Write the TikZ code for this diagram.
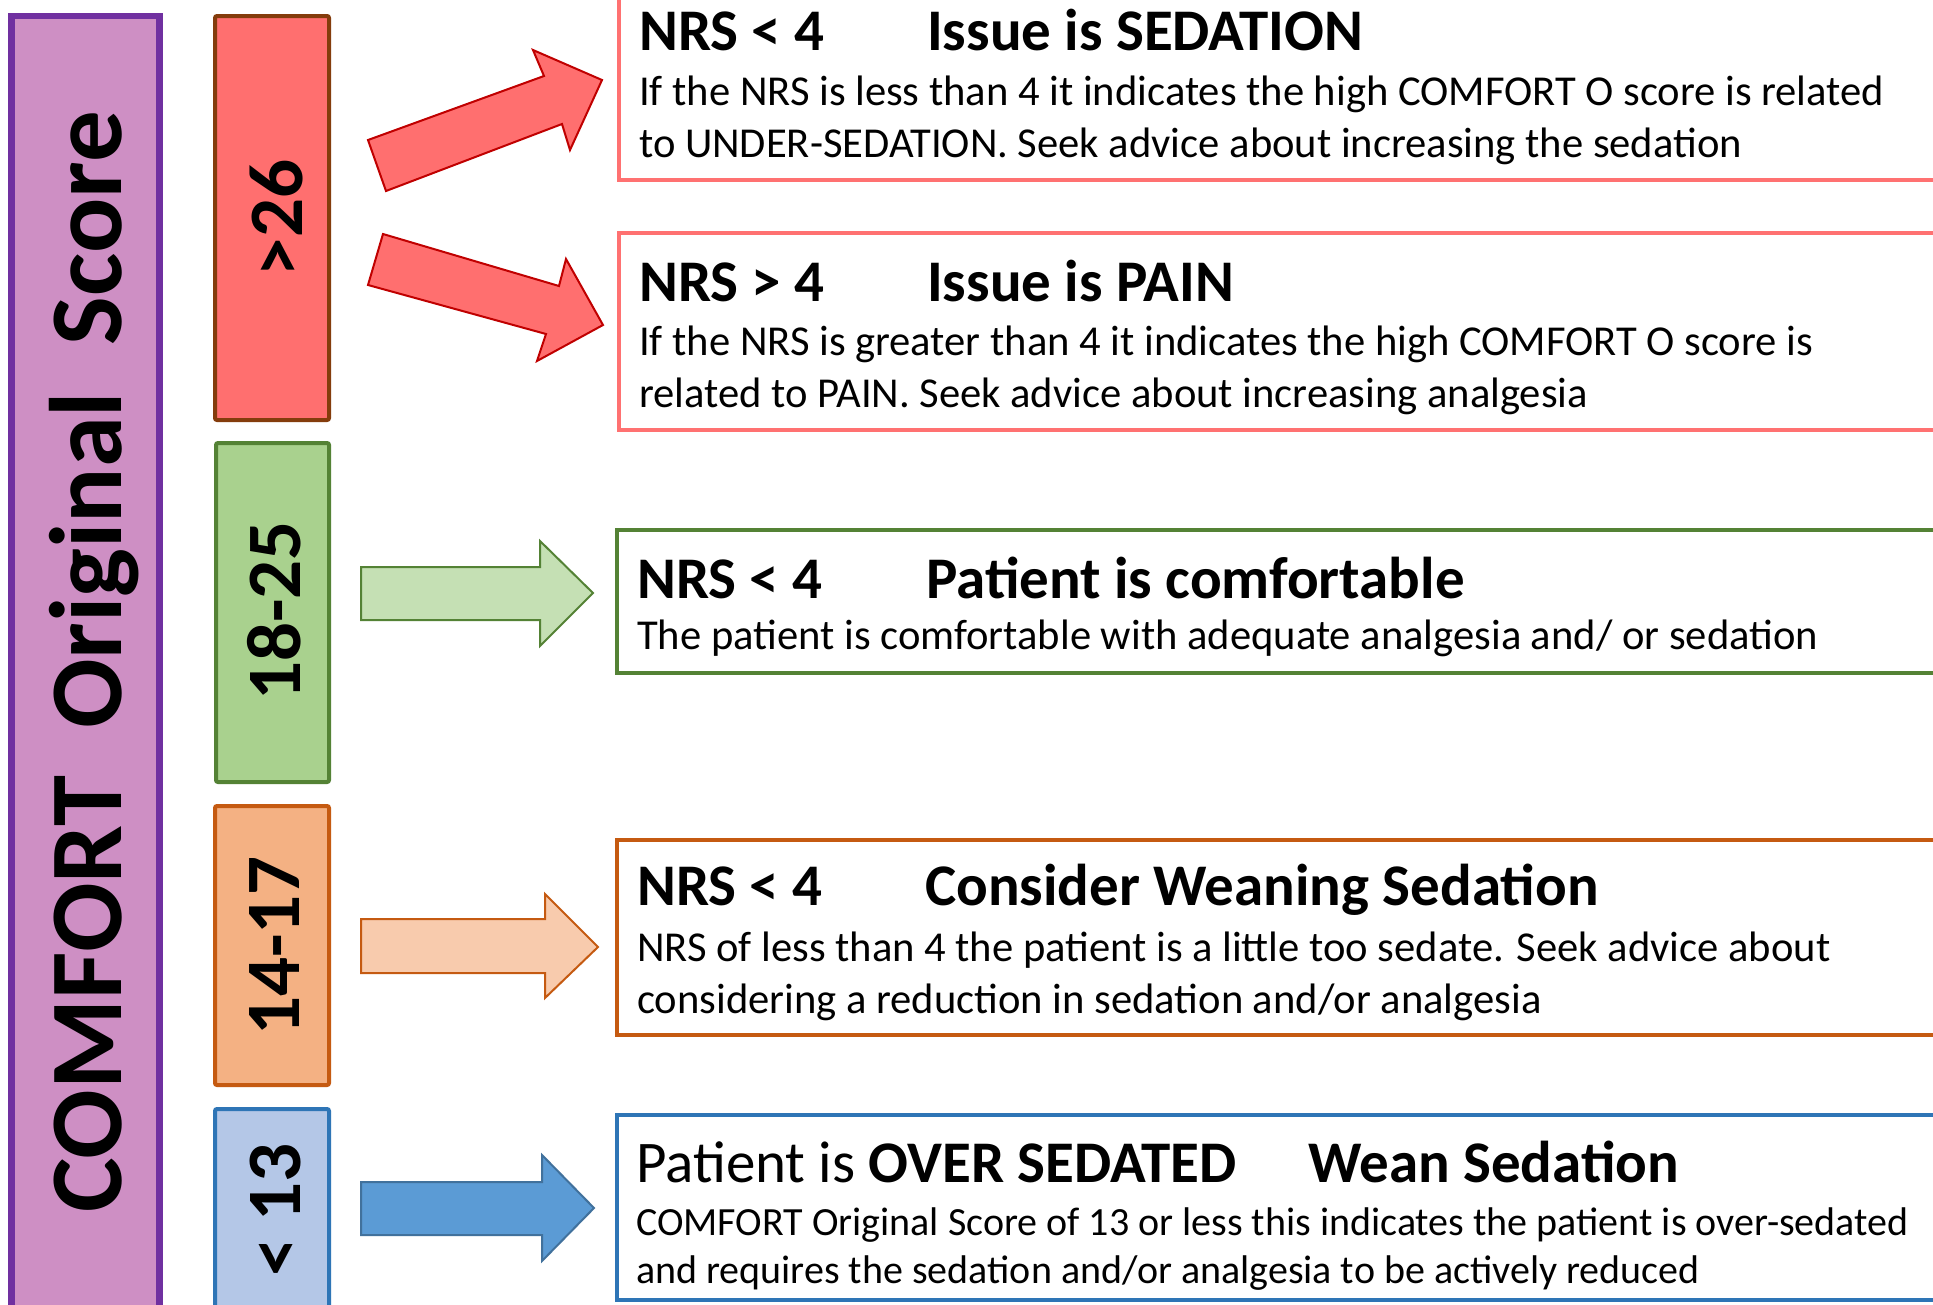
\documentclass[tikz,border=0pt]{standalone}
\usepackage{fontspec}
\setmainfont{Carlito}
\definecolor{purpfill}{RGB}{206,143,196}
\definecolor{purpline}{RGB}{112,48,160}
\definecolor{redfill}{RGB}{255,111,111}
\definecolor{redbar}{RGB}{132,60,12}
\definecolor{redarrow}{RGB}{192,0,0}
\definecolor{pinkline}{RGB}{255,113,113}
\definecolor{greenfill}{RGB}{169,209,142}
\definecolor{greenline}{RGB}{84,130,53}
\definecolor{greenarrow}{RGB}{197,224,180}
\definecolor{orangefill}{RGB}{244,177,131}
\definecolor{orangeline}{RGB}{197,90,17}
\definecolor{orangearrow}{RGB}{248,203,173}
\definecolor{bluefill}{RGB}{180,199,231}
\definecolor{blueline}{RGB}{46,117,182}
\definecolor{bluearrow}{RGB}{91,155,213}
\definecolor{bluearrowline}{RGB}{65,113,156}
\begin{document}
\begin{tikzpicture}[x=1pt,y=-1pt,
  barbox/.style={line width=4pt, rounded corners=2pt},
  tbox/.style={line width=4.5pt, fill=white},
  blockarrow/.style={line width=2pt, line join=miter},
  barlabel/.style={font=\fontsize{77}{77}\selectfont\bfseries, rotate=90, anchor=base, inner sep=0pt},
  ttl/.style={font=\fontsize{59}{59}\selectfont\bfseries, anchor=base west, inner sep=0pt},
  ttlr/.style={font=\fontsize{59}{59}\selectfont, anchor=base west, inner sep=0pt},
  bodyA/.style={font=\fontsize{42.6}{42.6}\selectfont, anchor=base west, inner sep=0pt},
  bodyB/.style={font=\fontsize{40}{40}\selectfont, anchor=base west, inner sep=0pt}]
\clip (0,0) rectangle (1933,1304);
\fill[white] (0,0) rectangle (1933,1304);

% left score bar
\draw[line width=6.5pt, draw=purpline, fill=purpfill] (11.5,16) rectangle (159.5,1340);
\node[barlabel, font=\fontsize{103}{103}\selectfont\bfseries] (score) at (121,662) {COMFORT\ \ Original\ \ Score};

% range bars
\draw[barbox, draw=redbar, fill=redfill] (215,16) rectangle (329,420);
\node[barlabel] (r1) at (302,218) {>26};
\draw[barbox, draw=greenline, fill=greenfill] (216,443) rectangle (329,782);
\node[barlabel] (r2) at (300,611) {18-25};
\draw[barbox, draw=orangeline, fill=orangefill] (215,806) rectangle (329,1085);
\node[barlabel] (r3) at (299,946) {14-17};
\draw[barbox, draw=blueline, fill=bluefill] (215,1109) rectangle (329,1340);
\node[barlabel] (r4) at (300,1210) {<\ 13};

% block arrows
\draw[blockarrow, draw=redarrow, fill=redfill]
  (368,140) -- (544,76) -- (533,50) -- (602,80) -- (570,150) -- (562,124) -- (386,191) -- cycle;
\draw[blockarrow, draw=redarrow, fill=redfill]
  (383,234) -- (559,286) -- (566,259) -- (603,325) -- (537,361) -- (546,334) -- (368,285) -- cycle;
\draw[blockarrow, draw=greenline, fill=greenarrow]
  (361,567) -- (540,567) -- (540,541) -- (593,593) -- (540,646) -- (540,620) -- (361,620) -- cycle;
\draw[blockarrow, draw=orangeline, fill=orangearrow]
  (361,919) -- (545,919) -- (545,894) -- (598,947) -- (545,998) -- (545,973) -- (361,973) -- cycle;
\draw[blockarrow, draw=bluearrowline, fill=bluearrow]
  (361,1182) -- (542,1182) -- (542,1155) -- (594,1208) -- (542,1261) -- (542,1235) -- (361,1235) -- cycle;

% text boxes
\draw[tbox, draw=pinkline] (619,-20) rectangle (2000,180);
\node[ttl] (t1a) at (639,50) {NRS < 4};
\node[ttl] (t1b) at (927,50) {Issue is SEDATION};
\node[bodyA] (t1c) at (639,105) {If the NRS is less than 4 it indicates the high COMFORT O score is related};
\node[bodyA] (t1d) at (639,157) {to UNDER-SEDATION. Seek advice about increasing the sedation};

\draw[tbox, draw=pinkline] (619,233) rectangle (2000,430);
\node[ttl] (t2a) at (639,301) {NRS > 4};
\node[ttl] (t2b) at (927,301) {Issue is PAIN};
\node[bodyA] (t2c) at (639,355) {If the NRS is greater than 4 it indicates the high COMFORT O score is};
\node[bodyA] (t2d) at (639,407) {related to PAIN. Seek advice about increasing analgesia};

\draw[tbox, draw=greenline] (617,530) rectangle (2000,673);
\node[ttl] (t3a) at (637,598) {NRS < 4};
\node[ttl] (t3b) at (926,598) {Patient is comfortable};
\node[bodyA] (t3c) at (637,649) {The patient is comfortable with adequate analgesia and/ or sedation};

\draw[tbox, draw=orangeline] (617,840) rectangle (2000,1035);
\node[ttl] (t4a) at (637,905) {NRS < 4};
\node[ttl] (t4b) at (925,905) {Consider Weaning Sedation};
\node[bodyA] (t4c) at (637,961) {NRS of less than 4 the patient is a little too sedate. Seek advice about};
\node[bodyA] (t4d) at (637,1013) {considering a reduction in sedation and/or analgesia};

\draw[tbox, draw=blueline] (617,1115) rectangle (2000,1300);
\node[ttlr] (t5a) at (636,1182) {Patient is \textbf{OVER SEDATED}};
\node[ttl] (t5b) at (1308,1182) {Wean Sedation};
\node[bodyB] (t5c) at (636,1235) {COMFORT Original Score of 13 or less this indicates the patient is over-sedated};
\node[bodyB] (t5d) at (636,1283) {and requires the sedation and/or analgesia to be actively reduced};
\end{tikzpicture}
\end{document}
